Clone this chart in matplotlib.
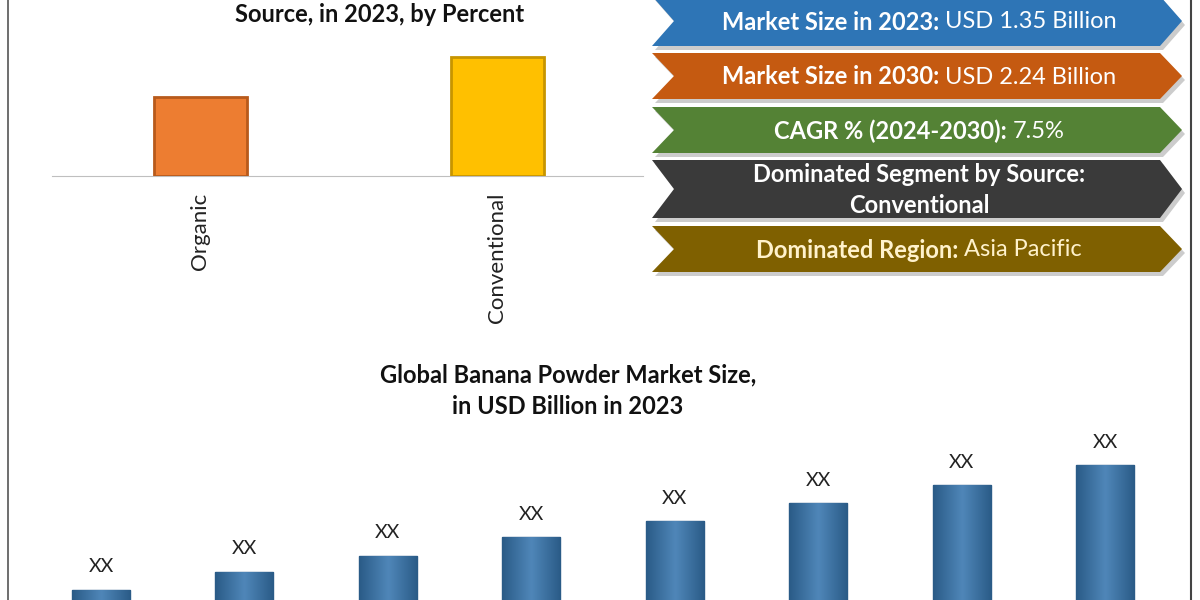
import matplotlib
matplotlib.use("Agg")
import matplotlib.pyplot as plt
import numpy as np
from matplotlib.patches import Polygon

FONT = "Lato"
plt.rcParams["font.family"] = FONT

source_cats = ["Organic", "Conventional"]
source_vals = [79, 119]
source_colors = ["#ed7d31", "#ffc000"]
source_edges = ["#b85a1b", "#c79500"]

years_vals = [20, 38, 54, 73, 89, 107, 125, 145]
bar_labels = ["XX"] * 8

banners = [
    ("Market Size in 2023: ", "USD 1.35 Billion", "#2e75b6", "white"),
    ("Market Size in 2030: ", "USD 2.24 Billion", "#c55a11", "white"),
    ("CAGR % (2024-2030): ", "7.5%", "#548235", "white"),
    ("Dominated Segment by Source:\nConventional", "", "#3a3a3a", "white"),
    ("Dominated Region: ", "Asia Pacific", "#7f6000", "#fff2cc"),
]
banner_y = [(-4, 46), (53, 99), (107, 153), (160, 218), (226, 272)]

W, H = 1200, 600
fig = plt.figure(figsize=(12, 6), dpi=100)
fig.patch.set_facecolor("white")

def fx(px): return px / W
def fy(py): return 1 - py / H

# top-left chart
ax1 = fig.add_axes([fx(52), fy(176), fx(643 - 52), (176 - 20) / H])
x = np.arange(len(source_cats))
for i in range(len(source_cats)):
    ax1.bar(x[i], source_vals[i], width=0.31, color=source_colors[i],
            edgecolor=source_edges[i], linewidth=2, zorder=3)
ax1.set_xlim(-0.5, 1.49)
ax1.set_ylim(0, 156)
for s in ["top", "right", "left"]:
    ax1.spines[s].set_visible(False)
ax1.spines["bottom"].set_color("#bfbfbf")
ax1.set_yticks([])
ax1.set_xticks(x)
ax1.set_xticklabels(source_cats, rotation=90, fontsize=16, color="#222")
ax1.tick_params(axis="x", length=0, pad=12)
fig.text(fx(380), fy(14), "Source, in 2023, by Percent", ha="center", va="center",
         fontsize=17, fontweight="bold", color="#111")

# bottom chart
ax2 = fig.add_axes([fx(30), 0, fx(1175 - 30), (600 - 430) / H])
xb = np.arange(len(years_vals))
bars = ax2.bar(xb, years_vals, width=0.405, color="#3b6e9e", edgecolor="#2b5a85",
               linewidth=1, zorder=3)
grad = np.linspace(0, 1, 100)
grad = 1 - np.abs(grad - 0.5) * 2
cmap = matplotlib.colors.LinearSegmentedColormap.from_list("g", ["#2a5b87", "#4f86b8"])
for b in bars:
    im = ax2.imshow(grad[None, :], extent=[b.get_x(), b.get_x() + b.get_width(), 0, b.get_height()],
                    cmap=cmap, aspect="auto", zorder=4)
    im.set_clip_path(b)
for i, v in enumerate(years_vals):
    ax2.text(xb[i], v + 23, bar_labels[i], ha="center", va="center", fontsize=14, color="#222")
step = (1105 - 101) / 7
ax2.set_xlim(-(101 - 30) / step, 7 + (1175 - 1105) / step)
ax2.set_ylim(10, 180)
ax2.axis("off")
fig.text(fx(568), fy(375), "Global Banana Powder Market Size,", ha="center", va="center",
         fontsize=17, fontweight="bold", color="#111")
fig.text(fx(568), fy(407), "in USD Billion in 2023", ha="center", va="center",
         fontsize=17, fontweight="bold", color="#111")

# banners
ov = fig.add_axes([0, 0, 1, 1], zorder=5)
ov.set_xlim(0, W); ov.set_ylim(H, 0); ov.axis("off")
ov.patch.set_alpha(0)
renderer = fig.canvas.get_renderer()
L, R, notch = 652, 1182, 22
FS = 17
for (bold, reg, col, tc), (y0, y1) in zip(banners, banner_y):
    ym = (y0 + y1) / 2
    pts = [(L, y0), (R - notch, y0), (R, ym), (R - notch, y1), (L, y1), (L + notch, ym)]
    sh = [(px + 3, py + 4) for px, py in pts]
    ov.add_patch(Polygon(sh, closed=True, color="#9a9a9a", alpha=0.5, lw=0))
    ov.add_patch(Polygon(pts, closed=True, color=col, lw=0))
    cx = (L + R) / 2 + 2
    if reg == "":
        ov.text(cx, ym + 1, bold, ha="center", va="center", fontsize=FS,
                fontweight="bold", color=tc, linespacing=1.4)
    else:
        t1 = ov.text(0, 0, bold, fontsize=FS, fontweight="bold")
        t2 = ov.text(0, 0, reg, fontsize=FS)
        w1 = t1.get_window_extent(renderer).width
        w2 = t2.get_window_extent(renderer).width
        t1.remove(); t2.remove()
        start = cx - (w1 + w2) / 2
        ov.text(start, ym + 1, bold, ha="left", va="center", fontsize=FS,
                fontweight="bold", color=tc)
        ov.text(start + w1, ym + 1, reg, ha="left", va="center", fontsize=FS, color=tc)

ov.plot([8, 8], [0, 600], color="#555", lw=1.2)
ov.plot([1191, 1191], [0, 600], color="#444", lw=1.5)

fig.savefig("out.png", dpi=100)
